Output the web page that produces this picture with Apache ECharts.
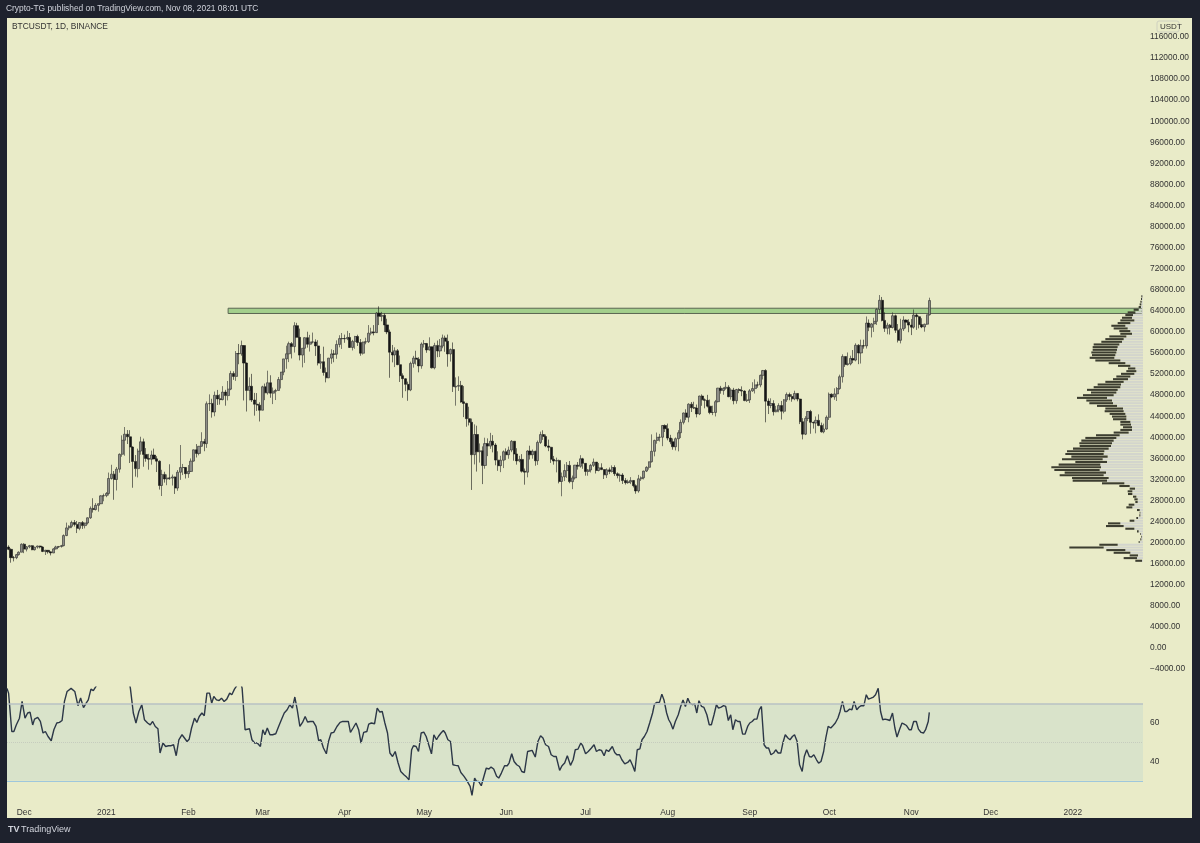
<!DOCTYPE html>
<html><head><meta charset="utf-8">
<script src="https://cdn.jsdelivr.net/npm/echarts@6/dist/echarts.min.js"></script>
<style>html,body{margin:0;padding:0;background:#1e222d;}#c{width:1200px;height:843px;}</style>
</head><body><div id="c"></div>
<script>
// ---- Daily BTCUSDT candles, rows are [open, high, low, close] ----
const nov20 = [[19155,19484,18570,18720],[18720,18915,16188,17150],[17150,17457,16438,17140],[17140,17854,16865,17720],[17720,18344,17517,18177],[18177,19863,18177,19696]];
const dec20 = [[19696,19888,18001,18765],[18765,19342,18330,19205],[19205,19566,18925,19422],[19422,19527,18565,18650],[18650,19177,18500,19148],[19148,19420,18857,19359],[19359,19420,18902,19167],[19167,19294,18200,18324],[18324,18639,17650,18541],[18541,18557,17911,18254],[18254,18292,17572,18036],[18036,18948,18020,18808],[18808,19411,18711,19175],[19175,19349,19000,19273],[19273,19570,19050,19426],[19426,21560,19278,21335],[21335,23800,21230,22797],[22797,23285,22350,23107],[23107,24171,22750,23821],[23821,24295,23060,23455],[23455,24102,21815,22719],[22719,23837,22353,23810],[23810,24100,22600,23232],[23232,23794,22703,23729],[23729,24789,23433,24712],[24712,26867,24500,26493],[26493,28422,25700,26281],[26281,27500,26101,27079],[27079,27410,25880,27385],[27385,28996,27320,28875],[28875,29300,27850,28923]];
const jan21 = [[28923,29600,28624,29331],[29331,33300,28946,32178],[32176,34778,31962,33000],[33000,33600,28130,31988],[31989,34360,29900,33949],[33950,36939,33288,36769],[36769,40365,36300,39432],[39432,41950,36500,40582],[40586,41380,38720,40088],[40088,41350,35111,38150],[38150,38264,30420,35404],[35410,36628,32531,34051],[34049,37850,32380,37371],[37371,40100,36701,39144],[39145,39747,34408,36742],[36737,37950,35357,35994],[35994,36852,33850,35828],[35825,37469,34800,36631],[36622,37850,35844,35891],[35901,36415,33400,35468],[35468,35600,30071,30850],[30852,33826,28850,32945],[32950,33456,31390,32078],[32078,32945,30900,32259],[32259,34875,31910,32254],[32251,32921,30837,32467],[32464,32557,29241,30366],[30362,33783,29842,33364],[33368,38531,31915,34252],[34246,34933,32825,34262],[34262,34342,32171,33092]];
const feb21 = [[33093,34717,32296,33526],[33517,35984,33418,35466],[35472,37662,35362,37618],[37620,38708,36161,36936],[36937,38310,36570,38290],[38289,40955,38215,39186],[39181,39700,37351,38795],[38795,46794,37988,46374],[46374,48142,45000,46420],[46420,47310,43727,44807],[44807,48678,43994,47969],[47968,48985,46125,47287],[47298,48150,46202,47153],[47156,49707,47014,48577],[48580,49010,46000,47911],[47911,50689,47003,49133],[49134,52618,48947,52119],[52119,52530,50901,51552],[51552,56368,50710,55906],[55906,57700,53863,55841],[55842,58352,55477,57408],[57413,57508,46988,54087],[54088,54183,44892,48891],[48891,51374,47003,49676],[49676,52041,46700,47073],[47074,48424,44106,46276],[46277,48395,45000,46106],[46103,46638,43000,45135]];
const mar21 = [[45134,49790,45115,49587],[49595,50200,47047,48440],[48436,52640,48100,50349],[50349,51773,47500,48374],[48374,49448,46300,48751],[48746,49200,47070,48882],[48882,51450,48882,50971],[50959,52402,49274,52375],[52376,54895,51789,54884],[54875,57387,53005,55851],[55851,58150,54272,57773],[57773,58081,54962,57221],[57222,61844,56078,61188],[61188,61724,58967,58968],[58976,60633,54600,55605],[55605,56938,53271,56900],[56900,58974,54123,58913],[58912,60040,57023,57665],[57666,59450,56270,58075],[58076,59880,57820,58108],[58101,58592,55450,57352],[57351,58430,53650,54084],[54083,55830,53000,54340],[54343,57200,51700,52303],[52303,53237,50427,51293],[51293,55073,51225,55025],[55025,56700,53950,55817],[55817,56559,54243,55777],[55782,58400,54900,57628],[57628,59368,57072,58730],[58730,59800,56769,58741]];
const apr21 = [[58739,59490,57935,58720],[58720,60200,58441,58950],[58950,59791,56955,57051],[57052,58500,56478,58202],[58202,59252,56800,59130],[59130,59474,57333,57991],[57991,58655,55473,55953],[55953,58153,55700,58077],[58077,58894,57654,58142],[58142,61300,57905,59770],[59770,60800,59360,60007],[60007,61300,59350,59860],[59860,63774,59800,63575],[63575,64854,61301,62959],[62959,63800,62020,63159],[63159,63520,60000,61334],[61334,62506,59580,60006],[60001,60437,51300,56150],[56150,57526,54221,55633],[55634,57076,53329,56425],[56425,56757,53695,53787],[53787,55521,50500,51690],[51690,52130,47500,51125],[51110,51200,48750,50047],[50047,50567,46930,49004],[49004,54356,48753,54021],[54030,55460,53222,55033],[55033,56428,53813,54824],[54825,55200,52330,53555],[53555,58000,53013,57697]];
const may21 = [[57697,58458,57037,57797],[57797,57911,56035,56578],[56578,58973,56479,57170],[57169,57200,53057,53200],[53205,57939,52900,57436],[57436,58360,55200,56393],[56393,58650,55241,57314],[57315,59500,56900,58862],[58866,59300,56235,58240],[58240,59500,53400,55816],[55816,56862,54370,56670],[56670,58000,48600,49631],[49537,51367,46000,49671],[49682,51570,48799,49841],[49845,50700,46555,46708],[46726,49720,43825,46426],[46424,46545,42001,43538],[43538,45800,42250,42849],[42849,43546,30000,36690],[36706,42451,34850,40526],[40526,42200,33488,37252],[37263,38829,35200,37449],[37449,38270,31111,34655],[34655,39920,34031,38797],[38796,39791,36419,38324],[38324,40841,37800,39241],[39241,40411,37134,38529],[38530,38877,34684,35664],[35659,37338,33632,34605],[34606,36488,33379,35641],[35641,37499,34153,37253]];
const jun21 = [[37254,37894,35666,36693],[36694,38225,35920,37568],[37568,39476,37170,39247],[39246,39289,35555,36829],[36829,37925,34800,35513],[35517,36480,35258,35796],[35797,36800,33300,33552],[33556,34068,31000,33380],[33380,37534,32396,37388],[37389,38400,35782,36675],[36697,37680,35936,37331],[37340,37440,34600,35546],[35555,39380,34757,39020],[39020,41064,38730,40516],[40516,41330,39506,40144],[40143,40527,38116,38349],[38349,39560,37365,38092],[38098,38200,35129,35819],[35820,36457,34803,35483],[35483,36137,33336,35600],[35600,35750,31251,31608],[31614,33298,28805,32509],[32509,34881,31683,33678],[33675,35298,32286,34663],[34663,35500,31275,31584],[31576,32730,30151,32283],[32283,34749,31973,34700],[34702,35297,33862,34494],[34494,36600,34225,35911],[35911,36100,34017,35045]];
const jul21 = [[35045,35057,32711,33504],[33502,33977,32699,33786],[33786,34945,33316,34669],[34669,35967,34357,35287],[35288,35293,33125,33690],[33690,35118,33532,34220],[34220,35059,33777,33862],[33863,33929,32077,32875],[32875,34100,32261,33815],[33816,34262,33004,33502],[33503,34666,33306,34259],[34259,34679,32658,33086],[33086,33340,32202,32730],[32730,33114,31550,32820],[32821,33185,31133,31781],[31781,32249,31020,31389],[31389,31949,31179,31533],[31533,32435,31108,31797],[31797,31885,30479,30817],[30817,31063,29278,29807],[29808,32858,29482,32110],[32110,32576,31708,32313],[32314,33650,32000,33581],[33581,34500,33401,34292],[34292,35398,33851,35350],[35350,40550,35205,37337],[37337,39542,36383,39406],[39406,40900,38772,39995],[39995,40640,39200,40008],[40008,42316,38313,42236],[42236,42448,41000,41626]];
const aug21 = [[41626,42599,39422,39846],[39846,40459,38690,39147],[39147,39780,37642,38208],[38208,39969,37508,39723],[39723,41350,37332,40867],[40867,43392,39853,42836],[42836,44700,42450,44614],[44614,45310,43261,43822],[43822,46454,42857,46286],[46286,46700,44800,45596],[45596,46743,45351,45554],[45554,46218,43770,44429],[44429,47886,44217,47835],[47835,48144,45971,47107],[47107,47372,45500,47015],[47015,48053,45660,45904],[45904,47160,44376,44696],[44696,46000,44203,44714],[44714,47088,43955,46761],[46761,49382,46622,49328],[49328,49757,48274,48868],[48868,49500,48070,49285],[49285,50500,49029,49507],[49507,49876,47600,47707],[47707,49300,47150,48960],[48960,49380,46250,46943],[46943,49188,46376,49058],[49058,49310,48370,48897],[48897,49666,47800,48767],[48767,48909,46850,46970],[46970,48246,46700,47100]];
const sep21 = [[47100,49156,46513,48811],[48811,50450,48630,49247],[49246,51000,48316,49942],[49942,50558,49400,49930],[49931,51900,49500,51758],[51757,52780,50969,52663],[52666,52920,42843,46863],[46868,47381,44412,46048],[46048,47400,45514,46395],[46396,47031,44132,44851],[44851,45969,44737,45171],[45171,46460,44743,46026],[46026,46900,43370,44940],[44940,47250,44550,47112],[47104,48500,46700,48122],[48121,48475,47035,47738],[47737,48170,46750,47300],[47300,48843,47040,48314],[48314,48372,46829,47250],[47250,47350,42500,42960],[42961,43639,39600,40588],[40588,44000,40420,43577],[43577,44978,43069,44896],[44896,45200,40675,42840],[42840,42967,41646,42716],[42716,43950,40750,43208],[43208,44350,42098,42236],[42236,42787,40888,41034],[41034,42590,40753,41564],[41564,44132,41410,43790]];
const oct21 = [[43791,48495,43283,48165],[48165,48336,47430,47657],[47657,49300,47120,48233],[48233,49529,46891,49245],[49245,51887,49022,51494],[51486,55750,50382,55339],[55338,55339,53357,53798],[53802,56100,53618,53967],[53929,55489,53661,54968],[54952,56561,54080,54660],[54659,57839,54415,57471],[57471,57680,53879,56006],[56006,58532,54000,57374],[57374,58530,56818,57347],[57347,62933,56850,61672],[61672,62378,60150,60875],[60876,61700,58963,61528],[61529,62695,60000,62010],[62006,64486,61322,64280],[64280,67000,63481,66002],[66002,66639,62000,62193],[62193,63732,60000,60689],[60689,61747,59562,61286],[61286,61500,59510,60853],[60853,63710,60656,63078],[63078,63293,59817,60328],[60328,61496,58000,58413],[58413,62499,57820,60576],[60575,62980,60174,62253],[62253,62359,60673,61859],[61859,62405,59945,61300]];
const nov21 = [[61300,62437,59405,60911],[60911,64270,60624,63219],[63220,63500,60382,62896],[62896,63086,60677,61395],[61396,62595,60721,60937],[60940,61560,60050,61470],[61470,63286,61322,63273],[63273,66500,63100,65960]];

const firstDay = '2020-11-25';
const lastAxisDay = '2022-01-27';

// Price axis ticks
const priceMin = -8000, priceMax = 120000, priceStep = 4000;

// Resistance zone (green rectangle)
const zoneStart = '2021-02-16', zoneLow = 63500, zoneHigh = 64500;

// RSI(14): [days after 2020-12-01, value]
const rsiPoints = [[-6.5,78],[-5.9,75.5],[-4.7,55.6],[-3.9,55.6],[-3.0,59],[-1.8,62.5],[-0.8,71.2],[0.3,62.5],[1.3,65.2],[2.2,65.7],[3.2,59],[3.9,62],[5.1,62.9],[6.1,60.8],[7.1,54.8],[8.0,55.6],[9.0,53],[10.2,50.8],[11.2,56.5],[12.3,60],[13.3,60.3],[14.3,61.3],[15.2,71.2],[16.2,76.4],[17.7,78],[18.4,78.6],[19.1,76.4],[20.3,69],[21.3,73],[22.4,68],[23.4,70.3],[24.2,72],[25.2,77.6],[26.1,76.8],[27.1,79],
[28,83],[29,85],[30,86],[31,86],[32,88],[33,90],[34,91],[35,93],[36,93],[37,92],[38,90],[39,86],
[40.1,78],[41.2,65.2],[42.2,60],[43.3,66],[44.4,69.5],[45.4,61.7],[46.6,60],[47.6,59],[48.5,60.8],[49.5,58.2],[50.5,57],[51.3,44.4],[52.4,49.6],[53.4,47.8],[54.5,48.2],[55.5,48.2],[56.4,48.7],[57.4,43],[58.4,51.3],[59.6,53.9],[60.3,53.9],[61.5,50.4],[62.3,51.6],[63.2,57.4],[64.3,62.5],[65.2,60.3],[66.1,63.4],[67.1,65.2],[68.0,63.8],[69.0,75.5],[70.0,75.5],[70.8,70.3],[71.6,73.8],[72.6,72],[73.6,71.7],[74.5,72.9],[75.5,71.2],[76.5,72.4],[77.6,75.5],[78.4,74.7],[79.4,77.6],[80.1,79],[81.2,84],
[82.3,78],[83.4,56.5],[84.1,55.6],[85.1,57],[86.0,51.3],[87.0,49.6],[88.0,49.6],[89.2,47.8],[90.1,56.5],[90.9,53.9],[91.8,57.4],[92.8,53.9],[93.8,53.9],[95.0,54.4],[96.0,57.9],[97.2,62],[98.2,65.2],[99.3,66.9],[100.3,69.5],[101.3,67.7],[102.2,73.5],[103.1,66.9],[104.1,58.2],[105.1,60.3],[106.1,63.4],[107.0,60.5],[108.0,60.8],[109.1,60.8],[110.2,58.2],[111.2,50.8],[112.0,51.3],[113.0,47],[114.1,44],[114.9,50.4],[115.9,54.8],[116.9,55.1],[118.1,58.2],[119.3,60.3],[120.3,60.8],[121.4,60.8],[122.4,60.8],[123.2,55.1],[124.2,57.4],[125.3,60],[126.3,56.5],[127.2,49.6],[128.2,55.1],[129.4,55.6],[130.1,59.4],[131.1,60],[132.3,59.6],[133.3,67.7],[134.3,65.7],[135.2,66],[136.2,60],[137.2,54.8],[138.1,44.4],[139.1,42.6],[140.1,45.2],[141.2,39.2],[142.2,34.8],[143.4,33.1],[144.4,31.9],[145.3,30.5],[146.3,46.1],[147.0,48.2],[148.0,47.8],[148.9,45.2],[149.9,54.8],[150.9,55.3],[151.8,53],[152.5,53.9],[153.8,44],[154.7,53.9],[155.7,51.3],[156.4,53],[157.4,54.8],[158.3,56.1],[159.0,54.8],[160.0,51.3],[161.0,50.4],[161.9,38.3],[162.9,38],[163.9,37.8],[164.9,34.3],[166.1,32.3],[167.0,30.5],[167.5,29.7],[168.4,27.1],[169.1,22.4],[170.1,31.4],[170.8,29.7],[171.6,29.7],[172.6,27.4],[173.3,26.7],[174.5,36.6],[175.5,36.1],[176.3,37.1],[177.3,36.1],[178.4,32.3],[179.2,31.4],[180.2,34],[181.4,37.8],[182.4,37.8],[183.1,39.2],[184.1,44],[185.0,40],[186.0,38.3],[187.0,37.4],[187.9,34.8],[188.9,34.3],[190.1,45.2],[190.8,44.4],[191.8,45.8],[193.0,42.3],[194.0,50.4],[195.0,53.4],[195.9,52.2],[196.9,48.7],[198.0,47.8],[199.0,43.5],[200.0,42.6],[200.9,42.6],[202.2,35.4],[203.1,37.8],[204.1,39.2],[205.1,43],[206.3,38],[207.3,40.9],[208.1,46.1],[209.1,46.4],[210.2,49.6],[210.9,48.2],[212.0,44],[213.0,45.2],[214.2,47],[215.2,48.7],[216.1,45.2],[217.1,46.1],
[218.0,45.8],[219.0,43],[219.8,46.1],[220.7,45.2],[221.4,45.8],[222.1,47.8],[223.0,44.7],[223.8,43.5],[224.8,43.5],[225.7,40.9],[226.8,38.8],[227.9,39.5],[228.8,40.9],[229.8,37.8],[230.6,34.8],[231.5,46.1],[232.5,46.6],[233.3,51.3],[234.2,53],[235.2,55.6],[236.2,60],[237.3,65.2],[238.0,69.8],[238.9,70.7],[239.9,70.7],[240.8,75],[241.6,72],[242.6,65.2],[243.4,61.7],[244.1,60],[245.0,56.8],[245.9,60.8],[247.0,64.3],[247.9,68.6],[248.8,72],[249.7,68.6],[250.6,72.9],[251.4,70.3],[252.4,69.5],[253.2,70],[254.0,65.2],[254.8,71.6],[255.8,68.6],[256.7,68.1],[257.8,64.3],[258.7,59.1],[259.5,59.1],[260.5,64.3],[261.4,69.5],[262.2,67.7],[263.2,68.3],[264.1,69],[264.9,68.6],[265.9,61.3],[266.8,64.3],[267.6,56.5],[268.6,61.7],[269.5,60.8],[270.3,60.8],[271.3,54.2],[272.2,54.2],[273.2,58.2],[274.0,60],[274.9,60.8],[275.7,62],[276.7,62],[277.6,66.9],[278.4,68.6],[279.4,48.7],[280.3,47],[281.1,47],[282.0,43.5],[283.0,44.4],[283.8,46.1],[284.7,44.4],[285.7,44.4],[286.5,49.6],[287.4,53.9],[288.4,52.2],[289.2,51.3],[290.1,53],[290.9,53.9],[291.9,50.4],[292.8,38.3],[293.8,34.8],[294.6,42.6],[295.5,46.1],[296.5,42.6],[297.3,42.3],[298.2,43.5],[299.2,40.9],[300.0,39.2],[300.9,40],[301.9,45.2],[302.7,52.2],[303.6,58.2],[304.6,57.4],[305.4,58.6],[306.3,60],[307.3,62.6],[308.1,66],[309.0,71.2],[309.9,66],[310.7,66],[311.7,67.2],[312.6,66.9],[313.4,71.2],[314.4,66.9],[315.3,68.3],[316.1,69],[317.1,69],[318.0,74.7],[318.8,72.4],[319.8,72.9],[320.7,73.5],[321.5,74.7],[322.5,78],[323.4,66],[324.2,61.7],[325.1,62],[326.1,61.7],[326.9,61.3],[327.9,65.2],[328.8,57.4],[329.6,52.7],[330.6,56.8],[331.5,60],[332.3,59.4],[333.2,58.7],[334.2,56.5],[335.0,56.5],[335.9,60.8],[336.9,60.8],[337.7,56.8],[338.7,55.1],[339.6,54.8],[340.4,56.5],[341.4,60.8],[341.8,65.5]];
const rsiMin = 20, rsiMax = 78.6, rsiStep = 20;
const rsiUpper = 70, rsiMid = 50, rsiLower = 30;

// Volume profile, 100 rows from the top (67000) down to 16300
const vpHigh = 67000, vpLow = 16300;
const vpDark = [3,3,4,5,7,15,23,23,30,42,38,42,42,33,35,51,55,62,77,75,73,75,70,74,75,50,37,22,30,40,42,45,55,70,80,92,76,92,90,77,71,60,53,57,47,43,40,30,32,27,35,45,71,93,97,98,94,107,112,115,109,122,95,125,149,136,124,132,110,103,67,31,16,14,13,10,10,7,17,18,8,2,3,5,14,37,53,27,5,2,2,3,3,55,103,57,50,25,40,20];
const vpGrey = [2,3,4,5,6,13,23,30,33,26,38,53,46,38,33,50,58,63,71,76,78,80,83,86,68,53,38,23,20,26,38,45,58,66,68,76,80,88,108,93,90,78,60,58,53,50,50,38,36,33,33,43,70,80,88,93,96,103,116,118,106,121,108,128,126,130,111,118,103,108,56,40,24,32,32,20,16,16,26,32,10,8,8,15,26,68,58,26,13,6,4,5,10,76,118,53,38,15,18,3];

const monthNames = ['Jan','Feb','Mar','Apr','May','Jun','Jul','Aug','Sep','Oct','Nov','Dec'];

// ---------- build ----------
const dates = [];
for (let t = Date.parse(firstDay + 'T00:00:00Z'); t <= Date.parse(lastAxisDay + 'T00:00:00Z'); t += 86400000) {
  dates.push(new Date(t).toISOString().slice(0, 10));
}
const ohlcRows = [].concat(nov20, dec20, jan21, feb21, mar21, apr21, may21, jun21, jul21, aug21, sep21, oct21, nov21);
const candles = ohlcRows.map(r => [r[0], r[3], r[2], r[1]]);
const dayOffset = (Date.parse('2020-12-01T00:00:00Z') - Date.parse(firstDay + 'T00:00:00Z')) / 86400000;

const L = 7, R = 57, PTOP = 15.9, PH = 674.2, RTOP = 687.2, RH = 112.8;
const py = p => PTOP + (priceMax - p) / (priceMax - priceMin) * PH;
const vpTop = py(vpHigh), vpH = py(vpLow) - py(vpHigh);
const vpRows = vpDark.map((_, i) => i);
const FONT = '"Liberation Sans Narrow","Liberation Sans",sans-serif';
const FS = 8.4;

const chart = echarts.init(document.getElementById('c'), null, {renderer: 'canvas'});
chart.setOption({
  animation: false,
  backgroundColor: '#1e222d',
  textStyle: {fontFamily: FONT},
  graphic: [
    {type: 'rect', z: -10, shape: {x: 7, y: 18, width: 1185, height: 800}, style: {fill: '#e9ebc8'}},
    {type: 'text', z: 10, x: 6, y: 5, style: {text: 'Crypto-TG published on TradingView.com, Nov 08, 2021 08:01 UTC', fill: '#d1d4dc', font: FS + 'px ' + FONT}},
    {type: 'text', z: 10, x: 12, y: 23, style: {text: 'BTCUSDT, 1D, BINANCE', fill: '#333333', font: FS + 'px ' + FONT}},
    {type: 'rect', z: 10, shape: {x: 1157, y: 21, width: 22, height: 11, r: 2}, style: {fill: 'none', stroke: '#cfd1c0', lineWidth: 1}},
    {type: 'text', z: 11, x: 1160, y: 23, style: {text: 'USDT', fill: '#333333', font: '8px ' + FONT}},
    {type: 'text', z: 10, x: 8, y: 825, style: {text: 'TV', fill: '#d1d4dc', font: 'bold 9px ' + FONT}},
    {type: 'text', z: 10, x: 21, y: 825, style: {text: 'TradingView', fill: '#d1d4dc', font: '9px ' + FONT}}
  ],
  grid: [
    {left: L, right: R, top: PTOP, height: PH},
    {left: L, right: R, top: RTOP, height: RH},
    {left: L, right: R, top: vpTop, height: vpH}
  ],
  xAxis: [
    {type: 'category', gridIndex: 0, data: dates, offset: 113, boundaryGap: true,
     axisLine: {show: false}, axisTick: {show: false}, splitLine: {show: false},
     axisLabel: {margin: 6, color: '#333333', fontSize: FS, fontFamily: FONT,
       interval: (i, v) => v.slice(8) === '01',
       formatter: v => v.slice(5, 7) === '01' ? v.slice(0, 4) : monthNames[+v.slice(5, 7) - 1]}},
    {type: 'value', gridIndex: 1, min: -dayOffset - 0.5, max: dates.length - dayOffset - 0.5, show: false},
    {type: 'value', gridIndex: 2, inverse: true, min: 0, max: 3 * (1200 - L - R), show: false}
  ],
  yAxis: [
    {type: 'value', gridIndex: 0, position: 'right', min: priceMin, max: priceMax, interval: priceStep,
     axisLine: {show: false}, axisTick: {show: false}, splitLine: {show: false},
     axisLabel: {showMinLabel: false, showMaxLabel: false, margin: 7, color: '#333333', fontSize: FS, fontFamily: FONT,
       formatter: v => (v < 0 ? '\u2212' : '') + Math.abs(v).toFixed(2)}},
    {type: 'value', gridIndex: 1, position: 'right', min: rsiMin, max: rsiMax, interval: rsiStep,
     axisLine: {show: false}, axisTick: {show: false}, splitLine: {show: false},
     axisLabel: {showMinLabel: false, showMaxLabel: false, margin: 7, color: '#333333', fontSize: FS, fontFamily: FONT}},
    {type: 'category', gridIndex: 2, data: vpRows, inverse: true, show: false}
  ],
  series: [
    {type: 'bar', xAxisIndex: 2, yAxisIndex: 2, stack: 'vp', data: vpGrey, barWidth: '78%', silent: true,
     itemStyle: {color: '#d3d5cd'}, z: 1},
    {type: 'bar', xAxisIndex: 2, yAxisIndex: 2, stack: 'vp', data: vpDark, barWidth: '78%', silent: true,
     itemStyle: {color: '#3c3d30'}, z: 1},
    {type: 'candlestick', xAxisIndex: 0, yAxisIndex: 0, data: candles, barWidth: 2.6, z: 3,
     itemStyle: {color: '#8e8e88', color0: '#161616', borderColor: '#2a2a2a', borderColor0: '#161616', borderWidth: 0.6},
     markArea: {silent: true, itemStyle: {color: '#a3cf8c', borderColor: '#5b6652', borderWidth: 1},
       data: [[{xAxis: zoneStart, yAxis: zoneLow}, {xAxis: dates[dates.length - 1], yAxis: zoneHigh}]]}},
    {type: 'line', xAxisIndex: 1, yAxisIndex: 1, data: rsiPoints, showSymbol: false, symbol: 'none', clip: true, z: 3,
     lineStyle: {color: '#2c3747', width: 1.4},
     markArea: {silent: true, itemStyle: {color: '#d9e3ca'},
       data: [[{yAxis: rsiLower, xAxis: -dayOffset - 0.5}, {yAxis: rsiUpper, xAxis: dates.length - dayOffset - 0.5}]]},
     markLine: {silent: true, symbol: 'none', label: {show: false},
       data: [
         {yAxis: rsiUpper, lineStyle: {color: '#b8c2c3', width: 1.5, type: 'solid'}},
         {yAxis: rsiMid, lineStyle: {color: '#c6ccbe', width: 1, type: 'dotted'}},
         {yAxis: rsiLower, lineStyle: {color: '#9fc7dc', width: 1.2, type: 'solid'}}
       ]}}
  ]
});
</script></body></html>
